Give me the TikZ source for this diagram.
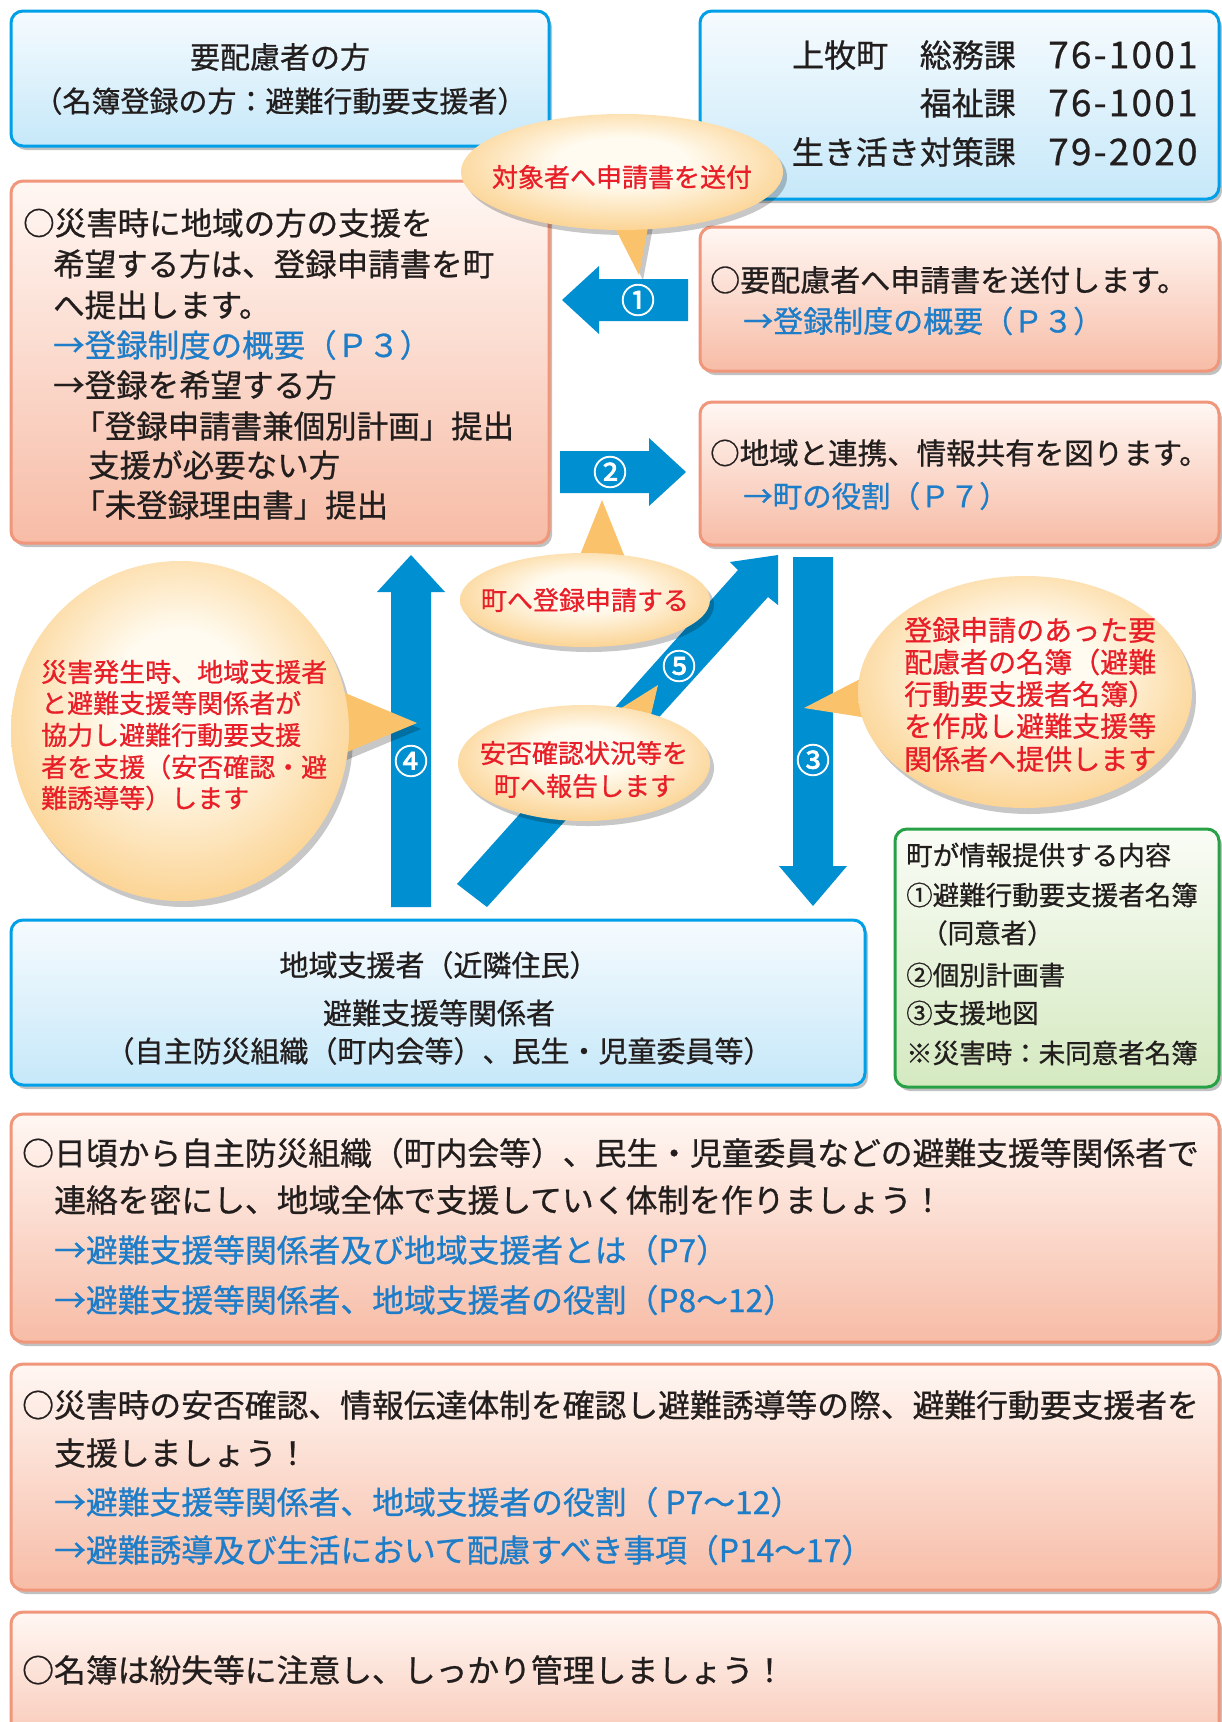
\documentclass[tikz,border=0pt]{standalone}
\usepackage{fontspec}
\setmainfont[FakeBold=0.8,AutoFakeBold=0.8]{Noto Sans CJK JP}
\newfontfamily\numfont[LetterSpace=6,FakeBold=0.6]{Noto Sans CJK JP}
\newfontfamily\cnumfont[FakeBold=2.2]{Noto Sans CJK JP}
\usetikzlibrary{shapes.geometric,shadows,fit,calc}

\definecolor{abl}{RGB}{0,143,208}
\definecolor{bbord}{RGB}{0,160,233}
\definecolor{btop}{RGB}{246,251,254}
\definecolor{bbot}{RGB}{198,232,249}
\definecolor{sbord}{RGB}{240,150,122}
\definecolor{stop}{RGB}{255,247,243}
\definecolor{sbot}{RGB}{247,188,166}
\definecolor{gbord}{RGB}{40,160,70}
\definecolor{gtop}{RGB}{250,252,246}
\definecolor{gbot}{RGB}{212,233,192}
\definecolor{bin}{RGB}{255,251,240}
\definecolor{bout}{RGB}{250,194,106}
\definecolor{red1}{RGB}{232,30,40}
\definecolor{lnk}{RGB}{30,125,200}
\definecolor{ink}{RGB}{35,30,30}

\pgfdeclareradialshading{bubsh}{\pgfpoint{0bp}{6bp}}{color(0bp)=(bin); color(10bp)=(bin); color(36bp)=(bout); color(50bp)=(bout)}

\newcommand{\fs}[1]{\fontsize{#1}{#1}\selectfont}

\tikzset{
 boxbase/.style={rounded corners=12pt, line width=3pt, inner sep=0pt,
   drop shadow={shadow xshift=3pt, shadow yshift=-4pt, opacity=0.4, fill=black!60}},
 bluebox/.style={boxbase, draw=bbord, top color=btop, bottom color=bbot},
 salbox/.style={boxbase, draw=sbord, top color=stop, bottom color=sbot},
 greenbox/.style={boxbase, draw=gbord, top color=gtop, bottom color=gbot},
 bubble/.style={ellipse, inner sep=0pt, shade, shading=bubsh},
 bshadow/.style={fill=black, opacity=0.22},
 tailc/.style={fill=bout},
 txl/.style={anchor=west, inner sep=0pt, text=ink},
 tlink/.style={anchor=west, inner sep=0pt, text=lnk},
 tred/.style={anchor=west, inner sep=0pt, text=red1},
 tctr/.style={anchor=center, inner sep=0pt, text=ink},
 cnum/.style={anchor=center, inner sep=0pt, text=white, font={\fs{34}\cnumfont}},
}

\begin{document}
\begin{tikzpicture}[x=1pt,y=-1pt]
\useasboundingbox (0,0) rectangle (1222,1722);
\clip (0,0) rectangle (1222,1722);
\fill[white] (0,0) rectangle (1222,1722);

% ---------- boxes ----------
\node[bluebox, fit={(11,11)(549,146)}] (tl) {};
\node[bluebox, fit={(700,11)(1219,199)}] (tr) {};
\node[salbox, fit={(11,181)(549,543)}] (lb) {};
\node[salbox, fit={(700,227)(1219,371)}] (r1) {};
\node[salbox, fit={(700,402)(1219,545)}] (r2) {};
\node[bluebox, fit={(11,920)(865,1085)}] (cb) {};
\node[greenbox, fit={(895,829)(1219,1087)}] (gb) {};
\node[salbox, fit={(11,1114)(1219,1342)}] (s1) {};
\node[salbox, fit={(11,1364)(1219,1590)}] (s2) {};
\node[salbox, fit={(11,1612)(1219,1780)}] (s3) {};

% ---------- block arrows ----------
\fill[abl] (688,279) -- (599,279) -- (599,266) -- (562,300) -- (599,334) -- (599,321) -- (688,321) -- cycle;
\fill[abl] (560,451) -- (649,451) -- (649,438) -- (686,472) -- (649,506) -- (649,493) -- (560,493) -- cycle;
\fill[abl] (793,557) -- (833,557) -- (833,866) -- (847,866) -- (813,906) -- (779,866) -- (793,866) -- cycle;
\fill[abl] (391,907) -- (431,907) -- (431,592) -- (445,592) -- (411,555) -- (377,592) -- (391,592) -- cycle;
\fill[abl] (457,884) -- (738,570) -- (730,562) -- (778,555) -- (778,605) -- (768,597) -- (487,907) -- cycle;

\node[cnum] (n1) at (638,300) {①};
\node[cnum] (n2) at (610,472) {②};
\node[cnum] (n3) at (813,760) {③};
\node[cnum] (n4) at (411,761) {④};
\node[cnum] (n5) at (679,666) {⑤};

% ---------- bubbles ----------
% B1
\coordinate (b1c) at (622,172);
\fill[bshadow] ($(b1c)+(4,5)$) ellipse [x radius=161, y radius=58];
\fill[bshadow] (616,227) -- (643,280) -- (653,227) -- cycle;
\fill[tailc] (612,222) -- (639,275) -- (649,222) -- cycle;
\node[bubble, minimum width=322pt, minimum height=116pt] (b1) at (b1c) {};
% B2
\coordinate (b2c) at (585,600);
\fill[bshadow] ($(b2c)+(4,5)$) ellipse [x radius=125, y radius=47];
\fill[tailc] (578,560) -- (602,500) -- (626,560) -- cycle;
\node[bubble, minimum width=250pt, minimum height=94pt] (b2) at (b2c) {};
% B3
\coordinate (b3c) at (584,763);
\fill[bshadow] ($(b3c)+(4,5)$) ellipse [x radius=126, y radius=58];
\fill[tailc] (615,712) -- (658,685) -- (650,719) -- cycle;
\node[bubble, minimum width=252pt, minimum height=116pt] (b3) at (b3c) {};
% B4
\coordinate (b4c) at (180,731);
\fill[bshadow] ($(b4c)+(4,6)$) ellipse [x radius=169, y radius=170];
\fill[bshadow] (342,696) -- (421,729) -- (344,761) -- cycle;
\fill[tailc] (338,690) -- (417,723) -- (340,755) -- cycle;
\node[bubble, minimum width=338pt, minimum height=340pt] (b4) at (b4c) {};
% B5
\coordinate (b5c) at (1025,692);
\fill[bshadow] ($(b5c)+(4,6)$) ellipse [x radius=167, y radius=116];
\fill[tailc] (866,676) -- (804,708) -- (868,718) -- cycle;
\node[bubble, minimum width=334pt, minimum height=232pt] (b5) at (b5c) {};

% ---------- texts ----------
\node[tctr, font=\fs{30}] (t01) at (280,57) {要配慮者の方};
\node[tctr, font=\fs{29}] (t02) at (280,101) {（名簿登録の方：避難行動要支援者）};

\node[txl, font=\fs{32}] (t03) at (792,55) {上牧町};
\node[txl, anchor=east, font=\fs{32}] (t04) at (1016,55) {総務課};
\node[txl, font={\fs{37}\numfont}] (t05) at (1048,55) {76-1001};
\node[txl, anchor=east, font=\fs{32}] (t06) at (1016,103) {福祉課};
\node[txl, font={\fs{37}\numfont}] (t07) at (1048,103) {76-1001};
\node[txl, anchor=east, font=\fs{32}] (t08) at (1016,152) {生き活き対策課};
\node[txl, font={\fs{37}\numfont}] (t09) at (1048,152) {79-2020};

\node[tred, anchor=center, font=\fs{26}] (t10) at (622,177) {対象者へ申請書を送付};

\node[txl, font=\fs{31.5}] (t11) at (23,223) {○災害時に地域の方の支援を};
\node[txl, font=\fs{31.5}] (t12) at (53,264) {希望する方は、登録申請書を町};
\node[txl, font=\fs{31.5}] (t13) at (53,305) {へ提出します。};
\node[tlink, font=\fs{31.5}] (t14) at (53,345) {→登録制度の概要（Ｐ３）};
\node[txl, font=\fs{31.5}] (t15) at (53,385) {→登録を希望する方};
\node[txl, font=\fs{31.5}] (t16) at (73,426) {「登録申請書兼個別計画」提出};
\node[txl, font=\fs{31.5}] (t17) at (88,465) {支援が必要ない方};
\node[txl, font=\fs{31.5}] (t18) at (73,505) {「未登録理由書」提出};

\node[txl, font=\fs{30}] (t19) at (710,280) {○要配慮者へ申請書を送付します。};
\node[tlink, font=\fs{30}] (t20) at (743,321) {→登録制度の概要（Ｐ３）};
\node[txl, font=\fs{29.5}] (t21) at (710,453) {○地域と連携、情報共有を図ります。};
\node[tlink, font=\fs{29.5}] (t22) at (743,496) {→町の役割（Ｐ７）};

\node[tred, anchor=center, font=\fs{26}] (t23) at (585,600) {町へ登録申請する};
\node[tred, anchor=center, font=\fs{26}] (t24) at (584,753) {安否確認状況等を};
\node[tred, anchor=center, font=\fs{26}] (t25) at (585,786) {町へ報告します};

\node[tred, font=\fs{26}] (t26) at (41,672) {災害発生時、地域支援者};
\node[tred, font=\fs{26}] (t27) at (41,703) {と避難支援等関係者が};
\node[tred, font=\fs{26}] (t28) at (41,735) {協力し避難行動要支援};
\node[tred, font=\fs{26}] (t29) at (41,767) {者を支援（安否確認・避};
\node[tred, font=\fs{26}] (t30) at (41,798) {難誘導等）します};

\node[tred, font=\fs{28}] (t31) at (904,630) {登録申請のあった要};
\node[tred, font=\fs{28}] (t32) at (904,662) {配慮者の名簿（避難};
\node[tred, font=\fs{28}] (t33) at (904,694) {行動要支援者名簿）};
\node[tred, font=\fs{28}] (t34) at (904,726) {を作成し避難支援等};
\node[tred, font=\fs{28}] (t35) at (904,759) {関係者へ提供します};

\node[tctr, font=\fs{29}] (t36) at (439,965) {地域支援者（近隣住民）};
\node[tctr, font=\fs{29}] (t37) at (439,1013) {避難支援等関係者};
\node[tctr, font=\fs{29}] (t38) at (439,1051) {（自主防災組織（町内会等）、民生・児童委員等）};

\node[txl, font=\fs{26.5}] (t39) at (906,855) {町が情報提供する内容};
\node[txl, font=\fs{26.5}] (t40) at (906,895) {①避難行動要支援者名簿};
\node[txl, font=\fs{26.5}] (t41) at (921,933) {（同意者）};
\node[txl, font=\fs{26.5}] (t42) at (906,975) {②個別計画書};
\node[txl, font=\fs{26.5}] (t43) at (906,1013) {③支援地図};
\node[txl, font=\fs{26.5}] (t44) at (906,1053) {※災害時：未同意者名簿};

\node[txl, font=\fs{31.8}] (t45) at (22,1153) {○日頃から自主防災組織（町内会等）、民生・児童委員などの避難支援等関係者で};
\node[txl, font=\fs{31.8}] (t46) at (54,1200) {連絡を密にし、地域全体で支援していく体制を作りましょう！};
\node[tlink, font=\fs{31.8}] (t47) at (54,1250) {→避難支援等関係者及び地域支援者とは（P7）};
\node[tlink, font=\fs{31.8}] (t48) at (54,1300) {→避難支援等関係者、地域支援者の役割（P8～12）};

\node[txl, font=\fs{31.8}] (t49) at (22,1405) {○災害時の安否確認、情報伝達体制を確認し避難誘導等の際、避難行動要支援者を};
\node[txl, font=\fs{31.8}] (t50) at (54,1453) {支援しましょう！};
\node[tlink, font=\fs{31.8}] (t51) at (54,1502) {→避難支援等関係者、地域支援者の役割（ P7～12）};
\node[tlink, font=\fs{31.8}] (t52) at (54,1550) {→避難誘導及び生活において配慮すべき事項（P14～17）};

\node[txl, font=\fs{31.8}] (t53) at (22,1670) {○名簿は紛失等に注意し、しっかり管理しましょう！};
\end{tikzpicture}
\end{document}
